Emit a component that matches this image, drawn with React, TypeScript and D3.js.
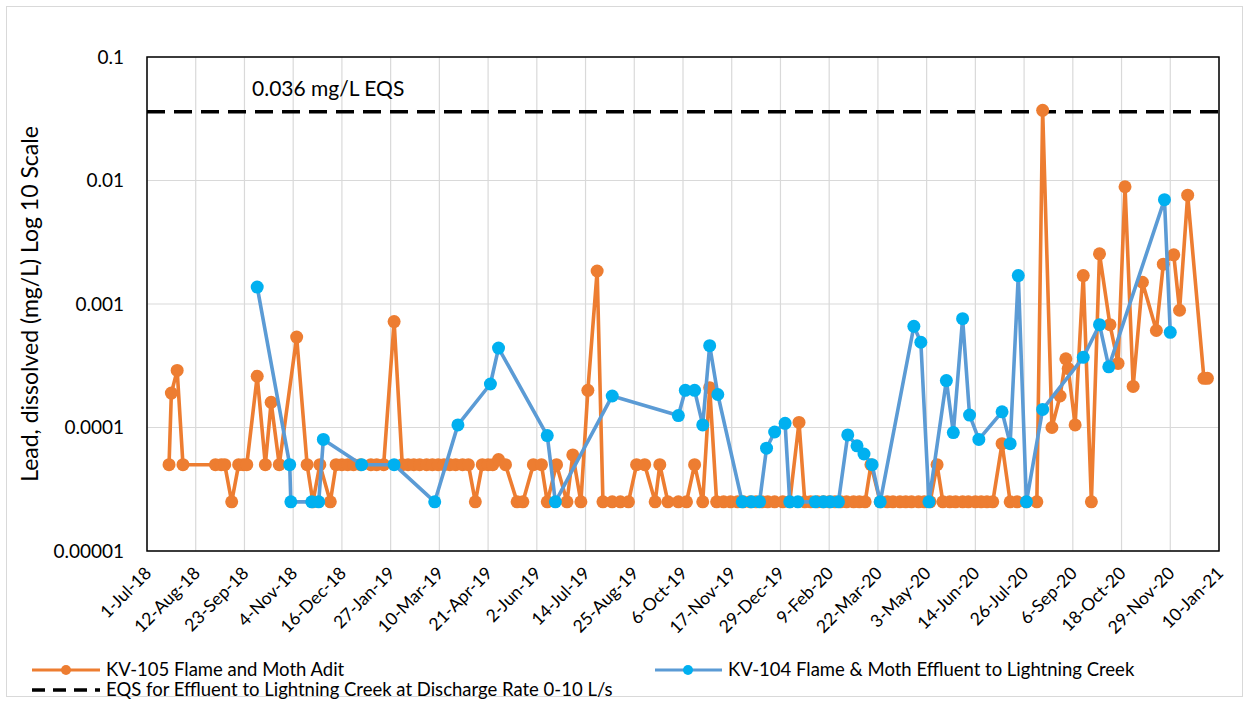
import React from "react";
import * as d3 from "d3";

// KV-105 Flame and Moth Adit (orange)
const kv105Dates = [
  "2018-07-20", "2018-07-22", "2018-07-27", "2018-08-01", "2018-08-29", "2018-09-03",
  "2018-09-06", "2018-09-12", "2018-09-18", "2018-09-22", "2018-09-25", "2018-10-04",
  "2018-10-11", "2018-10-16", "2018-10-23", "2018-11-07", "2018-11-16", "2018-11-21",
  "2018-11-27", "2018-12-06", "2018-12-11", "2018-12-16", "2018-12-21", "2018-12-26",
  "2019-01-01", "2019-01-10", "2019-01-15", "2019-01-21", "2019-01-30", "2019-02-06",
  "2019-02-11", "2019-02-16", "2019-02-21", "2019-02-27", "2019-03-04", "2019-03-09",
  "2019-03-14", "2019-03-19", "2019-03-24", "2019-03-30", "2019-04-04", "2019-04-10",
  "2019-04-16", "2019-04-21", "2019-04-25", "2019-04-30", "2019-05-06", "2019-05-16",
  "2019-05-21", "2019-05-30", "2019-06-06", "2019-06-11", "2019-06-19", "2019-06-28",
  "2019-07-03", "2019-07-10", "2019-07-16", "2019-07-24", "2019-07-29", "2019-08-06",
  "2019-08-13", "2019-08-20", "2019-08-27", "2019-09-03", "2019-09-12", "2019-09-16",
  "2019-09-23", "2019-10-02", "2019-10-09", "2019-10-16", "2019-10-23", "2019-10-29",
  "2019-11-04", "2019-11-10", "2019-11-16", "2019-11-22", "2019-11-27", "2019-12-03",
  "2019-12-08", "2019-12-13", "2019-12-18", "2019-12-24", "2019-12-31", "2020-01-06",
  "2020-01-14", "2020-01-19", "2020-01-24", "2020-01-30", "2020-02-04", "2020-02-09",
  "2020-02-14", "2020-02-19", "2020-02-24", "2020-03-01", "2020-03-06", "2020-03-11",
  "2020-03-16", "2020-03-24", "2020-03-30", "2020-04-04", "2020-04-10", "2020-04-15",
  "2020-04-20", "2020-04-26", "2020-05-01", "2020-05-06", "2020-05-12", "2020-05-17",
  "2020-05-23", "2020-05-28", "2020-06-03", "2020-06-08", "2020-06-14", "2020-06-19",
  "2020-06-24", "2020-06-29", "2020-07-07", "2020-07-14", "2020-07-20", "2020-07-28",
  "2020-08-06", "2020-08-11", "2020-08-19", "2020-08-26", "2020-08-31", "2020-09-02",
  "2020-09-08", "2020-09-15", "2020-09-22", "2020-09-29", "2020-10-08", "2020-10-15",
  "2020-10-21", "2020-10-28", "2020-11-05", "2020-11-17", "2020-11-23", "2020-12-02",
  "2020-12-07", "2020-12-14", "2020-12-28", "2020-12-31",
];
const kv105Values = [
  0.00005, 0.00019, 0.00029, 0.00005, 0.00005, 0.00005,
  0.00005, 0.000025, 0.00005, 0.00005, 0.00005, 0.00026,
  0.00005, 0.00016, 0.00005, 0.00054, 0.00005, 0.000025,
  0.00005, 0.000025, 0.00005, 0.00005, 0.00005, 0.00005,
  0.00005, 0.00005, 0.00005, 0.00005, 0.00072, 0.00005,
  0.00005, 0.00005, 0.00005, 0.00005, 0.00005, 0.00005,
  0.00005, 0.00005, 0.00005, 0.00005, 0.00005, 0.000025,
  0.00005, 0.00005, 0.00005, 0.000055, 0.00005, 0.000025,
  0.000025, 0.00005, 0.00005, 0.000025, 0.00005, 0.000025,
  0.00006, 0.000025, 0.0002, 0.00185, 0.000025, 0.000025,
  0.000025, 0.000025, 0.00005, 0.00005, 0.000025, 0.00005,
  0.000025, 0.000025, 0.000025, 0.00005, 0.000025, 0.00021,
  0.000025, 0.000025, 0.000025, 0.000025, 0.000025, 0.000025,
  0.000025, 0.000025, 0.000025, 0.000025, 0.000025, 0.000025,
  0.00011, 0.000025, 0.000025, 0.000025, 0.000025, 0.000025,
  0.000025, 0.000025, 0.000025, 0.000025, 0.000025, 0.000025,
  0.00005, 0.000025, 0.000025, 0.000025, 0.000025, 0.000025,
  0.000025, 0.000025, 0.000025, 0.000025, 0.00005, 0.000025,
  0.000025, 0.000025, 0.000025, 0.000025, 0.000025, 0.000025,
  0.000025, 0.000025, 0.000074, 0.000025, 0.000025, 0.000025,
  0.000025, 0.037, 0.0001, 0.00018, 0.00036, 0.0003,
  0.000105, 0.0017, 0.000025, 0.00255, 0.00068, 0.00033,
  0.0089, 0.000215, 0.0015, 0.00061, 0.0021, 0.0025,
  0.00089, 0.0076, 0.00025, 0.00025,
];

// KV-104 Flame & Moth Effluent to Lightning Creek (blue)
const kv104Dates = [
  "2018-10-04", "2018-11-01", "2018-11-02", "2018-11-20", "2018-11-26", "2018-11-30",
  "2019-01-02", "2019-01-30", "2019-03-06", "2019-03-26", "2019-04-23", "2019-04-30",
  "2019-06-11", "2019-06-18", "2019-08-06", "2019-10-02", "2019-10-08", "2019-10-16",
  "2019-10-23", "2019-10-29", "2019-11-05", "2019-11-26", "2019-12-04", "2019-12-11",
  "2019-12-17", "2019-12-24", "2020-01-02", "2020-01-06", "2020-01-13", "2020-01-28",
  "2020-02-04", "2020-02-10", "2020-02-17", "2020-02-25", "2020-03-04", "2020-03-10",
  "2020-03-17", "2020-03-24", "2020-04-22", "2020-04-28", "2020-05-05", "2020-05-20",
  "2020-05-26", "2020-06-03", "2020-06-09", "2020-06-17", "2020-07-07", "2020-07-14",
  "2020-07-21", "2020-07-28", "2020-08-11", "2020-09-15", "2020-09-29", "2020-10-07",
  "2020-11-24", "2020-11-29",
];
const kv104Values = [
  0.00137, 0.00005, 0.000025, 0.000025, 0.000025, 0.00008,
  0.00005, 0.00005, 0.000025, 0.000105, 0.000225, 0.00044,
  0.000086, 0.000025, 0.00018, 0.000125, 0.0002, 0.0002,
  0.000105, 0.00046, 0.000185, 0.000025, 0.000025, 0.000025,
  0.000068, 0.000092, 0.000108, 0.000025, 0.000025, 0.000025,
  0.000025, 0.000025, 0.000025, 0.000087, 0.000071, 0.000061,
  0.00005, 0.000025, 0.00066, 0.00049, 0.000025, 0.00024,
  0.000091, 0.00076, 0.000126, 0.00008, 0.000134, 0.000074,
  0.0017, 0.000025, 0.00014, 0.00037, 0.00068, 0.00031,
  0.007, 0.00059,
];

const eqsValue = 0.036;
const eqsLabel = "0.036 mg/L EQS";

const xTickLabels = [
  "1-Jul-18", "12-Aug-18", "23-Sep-18", "4-Nov-18", "16-Dec-18", "27-Jan-19",
  "10-Mar-19", "21-Apr-19", "2-Jun-19", "14-Jul-19", "25-Aug-19", "6-Oct-19",
  "17-Nov-19", "29-Dec-19", "9-Feb-20", "22-Mar-20", "3-May-20", "14-Jun-20",
  "26-Jul-20", "6-Sep-20", "18-Oct-20", "29-Nov-20", "10-Jan-21",
];
const yTickValues = [0.1, 0.01, 0.001, 0.0001, 0.00001];
const yTickLabels = ["0.1", "0.01", "0.001", "0.0001", "0.00001"];

const seriesNames = [
  "KV-105 Flame and Moth Adit",
  "KV-104 Flame & Moth Effluent to Lightning Creek",
  "EQS for Effluent to Lightning Creek at Discharge Rate 0-10 L/s",
];
const yTitle = "Lead, dissolved (mg/L) Log 10 Scale";

const W = 1249;
const H = 703;
const margin = { top: 57, right: 30, bottom: 152, left: 147 };
const ORANGE = "#ED7D31";
const BLUE_LINE = "#5B9BD5";
const BLUE_DOT = "#00B0F0";
const FONT = "Lato, 'Open Sans', sans-serif";

const parseIso = d3.utcParse("%Y-%m-%d");
const parseTick = d3.utcParse("%d-%b-%y");

export default function App() {
  const tickDates = xTickLabels.map((s) => parseTick(s) as Date);
  const x = d3
    .scaleUtc()
    .domain([tickDates[0], tickDates[tickDates.length - 1]])
    .range([margin.left, W - margin.right]);
  const y = d3
    .scaleLog()
    .domain([0.00001, 0.1])
    .range([H - margin.bottom, margin.top]);

  const kv105 = kv105Dates.map((d, i) => ({ date: parseIso(d) as Date, v: kv105Values[i] }));
  const kv104 = kv104Dates.map((d, i) => ({ date: parseIso(d) as Date, v: kv104Values[i] }));

  const line = d3
    .line<{ date: Date; v: number }>()
    .x((d) => x(d.date))
    .y((d) => y(d.v));

  const x0 = margin.left;
  const x1 = W - margin.right;
  const y0 = margin.top;
  const y1 = H - margin.bottom;

  return (
    <svg
      width={W}
      height={H}
      style={{ position: "fixed", left: 0, top: 0, background: "#fff" }}
      fontFamily={FONT}
    >
      <rect x={6.5} y={6.5} width={W - 13} height={H - 13} fill="#fff" stroke="#D9D9D9" />

      {/* gridlines */}
      {tickDates.map((d, i) => (
        <line key={"gx" + i} x1={x(d)} x2={x(d)} y1={y0} y2={y1} stroke="#D9D9D9" strokeWidth={1.2} />
      ))}
      {yTickValues.map((v, i) => (
        <line key={"gy" + i} x1={x0} x2={x1} y1={y(v)} y2={y(v)} stroke="#D9D9D9" strokeWidth={1.2} />
      ))}

      {/* y tick labels */}
      {yTickValues.map((v, i) => (
        <text key={"yt" + i} x={x0 - 23} y={y(v)} dy="0.35em" textAnchor="end" fontSize={19} fill="#000">
          {yTickLabels[i]}
        </text>
      ))}

      {/* x tick labels */}
      {tickDates.map((d, i) => (
        <text
          key={"xt" + i}
          transform={`translate(${x(d) + 1},${y1 + 19}) rotate(-45)`}
          dy="0.35em"
          textAnchor="end"
          fontSize={17.5}
          fill="#000"
        >
          {xTickLabels[i]}
        </text>
      ))}

      <text transform={`translate(30,${(y0 + y1) / 2}) rotate(-90)`} textAnchor="middle" dy="0.35em" fontSize={23} fill="#000">
        {yTitle}
      </text>

      {/* EQS line */}
      <line x1={x0} x2={x1} y1={y(eqsValue)} y2={y(eqsValue)} stroke="#000" strokeWidth={3.5} strokeDasharray="18,9" />
      <text x={252} y={96} fontSize={21} fill="#000">
        {eqsLabel}
      </text>

      {/* KV-105 */}
      <path d={line(kv105) ?? ""} fill="none" stroke={ORANGE} strokeWidth={3.6} strokeLinejoin="round" />
      {kv105.map((d, i) => (
        <circle key={"o" + i} cx={x(d.date)} cy={y(d.v)} r={6.5} fill={ORANGE} />
      ))}

      {/* KV-104 */}
      <path d={line(kv104) ?? ""} fill="none" stroke={BLUE_LINE} strokeWidth={3.6} strokeLinejoin="round" />
      {kv104.map((d, i) => (
        <circle key={"b" + i} cx={x(d.date)} cy={y(d.v)} r={6.5} fill={BLUE_DOT} />
      ))}

      {/* plot border */}
      <rect x={x0} y={y0} width={x1 - x0} height={y1 - y0} fill="none" stroke="#000" strokeWidth={1.5} />

      {/* legend */}
      <g fontSize={18.5} fill="#000">
        <line x1={32} x2={100} y1={670} y2={670} stroke={ORANGE} strokeWidth={3.2} />
        <circle cx={66} cy={670} r={5} fill={ORANGE} />
        <text x={106} y={670} dy="0.35em">{seriesNames[0]}</text>

        <line x1={655} x2={722} y1={670} y2={670} stroke={BLUE_LINE} strokeWidth={3.2} />
        <circle cx={688} cy={670} r={5} fill={BLUE_DOT} />
        <text x={728} y={670} dy="0.35em">{seriesNames[1]}</text>

        <line x1={32} x2={100} y1={690} y2={690} stroke="#000" strokeWidth={3.5} strokeDasharray="13,8" />
        <text x={106} y={690} dy="0.35em">{seriesNames[2]}</text>
      </g>
    </svg>
  );
}
